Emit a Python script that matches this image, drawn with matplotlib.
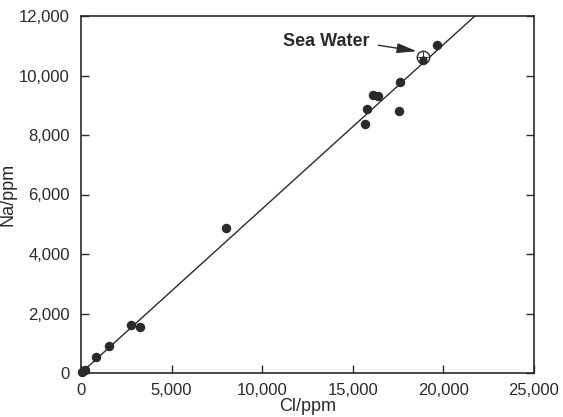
import matplotlib
matplotlib.use("Agg")
import matplotlib.pyplot as plt

plt.rcParams['font.family'] = ['Liberation Sans', 'DejaVu Sans']

# Data (ppm)
cl = [50, 200, 850, 1560, 2760, 3240, 8000, 15650, 15800, 16100, 16400, 17570, 17600, 18900, 19630]
na = [50, 90, 540, 900, 1600, 1550, 4870, 8380, 8880, 9330, 9300, 8800, 9790, 10510, 11020]
sea_cl, sea_na = 18850, 10630
line_slope = 0.552
x_ticks = [0, 5000, 10000, 15000, 20000, 25000]
y_ticks = [0, 2000, 4000, 6000, 8000, 10000, 12000]

fig = plt.figure(figsize=(5.63, 4.17), dpi=100)
ax = fig.add_axes([81/563, 1-373/417, (534-81)/563, (373-16)/417])

ax.axline((0, 0), slope=line_slope, color='#2a2a2a', lw=1.0, zorder=2)
ax.plot(cl, na, 'o', color='#2a2a2a', ms=5.8, zorder=3, clip_on=False)
ax.plot([sea_cl], [sea_na], 'o', mfc='white', mec='#2a2a2a', mew=1.0, ms=9, zorder=4)
ax.plot([sea_cl], [sea_na], '+', color='#2a2a2a', mew=0.7, ms=8, zorder=5)
ax.plot([18900], [10510], 'o', color='#2a2a2a', ms=5.0, zorder=6)

ax.text(15900, 11150, 'Sea Water', fontsize=13, fontweight='bold', ha='right',
        va='center', color='#2a2a2a')
ax.annotate('', xy=(18530, 10816), xytext=(16410, 11017),
            arrowprops=dict(arrowstyle='-|>,head_length=1.2,head_width=0.3', color='#2a2a2a',
                            lw=1.0, shrinkA=0, shrinkB=0))

ax.set_xlim(0, 25000)
ax.set_ylim(0, 12000)
ax.set_xticks(x_ticks)
ax.set_yticks(y_ticks)
ax.set_xticklabels([f'{v:,}' for v in x_ticks])
ax.set_yticklabels([f'{v:,}' for v in y_ticks])
ax.tick_params(direction='in', length=6, width=1.0, labelsize=12, colors='#2a2a2a',
               right=True, top=False, pad=8)
ax.tick_params(axis='x', pad=7)
for s in ax.spines.values():
    s.set_linewidth(1.2)
    s.set_color('#2a2a2a')

ax.set_xlabel('Cl/ppm', fontsize=13, color='#2a2a2a', labelpad=0)
ax.set_ylabel('Na/ppm', fontsize=13, color='#2a2a2a')
ax.yaxis.set_label_coords(-0.142, 0.50)

fig.savefig('out.png', dpi=100)
